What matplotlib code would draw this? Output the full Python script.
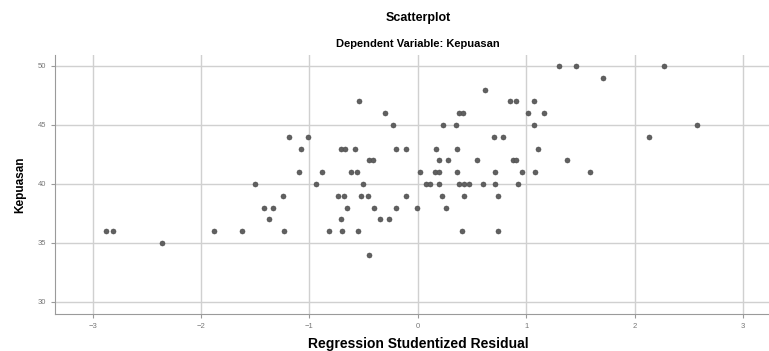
import matplotlib
matplotlib.use("Agg")
from matplotlib import pyplot as plt

# studentized residual per satisfaction score (Kepuasan)
residual_by_score = {
    50: [1.30, 1.46, 2.27],
    49: [1.71],
    48: [0.62],
    47: [-0.54, 0.85, 0.91, 1.07],
    46: [-0.30, 0.38, 0.42, 1.02, 1.16],
    45: [-0.23, 0.23, 0.35, 1.07, 2.58],
    44: [-1.19, -1.01, 0.70, 0.79, 2.13],
    43: [-1.08, -0.71, -0.67, -0.58, -0.20, -0.11, 0.17, 0.36, 1.11],
    42: [-0.45, -0.41, 0.20, 0.28, 0.55, 0.88, 0.91, 1.38],
    41: [-1.10, -0.88, -0.62, -0.56, 0.02, 0.16, 0.20, 0.36, 0.71, 0.96, 1.08, 1.59],
    40: [-1.50, -0.94, -0.51, 0.08, 0.11, 0.20, 0.38, 0.43, 0.47, 0.60, 0.71, 0.92],
    39: [-1.24, -0.74, -0.68, -0.52, -0.46, -0.11, 0.22, 0.43, 0.74],
    38: [-1.42, -1.34, -0.65, -0.40, -0.20, -0.01, 0.26],
    37: [-1.37, -0.71, -0.35, -0.27],
    36: [-2.88, -2.81, -1.88, -1.62, -1.23, -0.82, -0.70, -0.55, 0.41, 0.74],
    35: [-2.36],
    34: [-0.45],
}
x_ticks = [-3, -2, -1, 0, 1, 2, 3]
y_ticks = [30, 35, 40, 45, 50]

residuals = [r for score, rs in residual_by_score.items() for r in rs]
scores = [score for score, rs in residual_by_score.items() for r in rs]

plt.rcParams['font.family'] = ['Liberation Sans', 'DejaVu Sans']

fig = plt.figure(figsize=(7.69, 3.51), dpi=100)
ax = fig.add_axes([55 / 769, 1 - 314 / 351, 1 - 55 / 769, (314 - 55) / 351])

ax.scatter(residuals, scores, s=13, color='#606060', edgecolors='#4a4a4a',
           linewidths=0.4, zorder=3)

ax.set_xlim(-3.347, 3.24)
ax.set_ylim(28.98, 50.93)
ax.set_xticks(x_ticks)
ax.set_yticks(y_ticks)
ax.grid(True, color='#d0d0d0', linewidth=1.0)
ax.set_axisbelow(True)

for side in ('top', 'right'):
    ax.spines[side].set_visible(False)
for side in ('left', 'bottom'):
    ax.spines[side].set_color('#9a9a9a')
ax.tick_params(labelsize=5.5, colors='#9a9a9a', labelcolor='#777777', length=3, width=0.8)

ax.set_xlabel('Regression Studentized Residual', fontsize=10, fontweight='bold', labelpad=5)
ax.xaxis.label.set_x((418 - 55) / 714)
ax.set_ylabel('Kepuasan', fontsize=8.5, fontweight='bold', labelpad=8)

fig.text(418 / 769, 1 - 18 / 351, 'Scatterplot', ha='center', va='center',
         fontsize=9, fontweight='bold')
fig.text(418 / 769, 1 - 44 / 351, 'Dependent Variable: Kepuasan', ha='center', va='center',
         fontsize=8, fontweight='bold')

plt.savefig('out.png', dpi=100)
